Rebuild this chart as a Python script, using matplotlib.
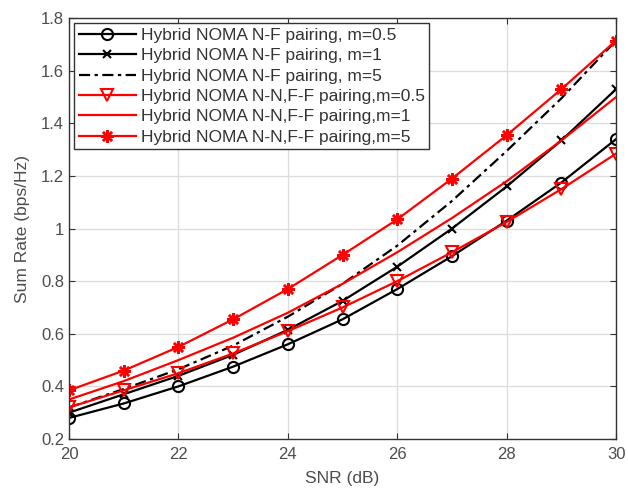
import matplotlib
matplotlib.use("Agg")
import matplotlib.pyplot as plt
from matplotlib.ticker import FuncFormatter

snr = [20, 21, 22, 23, 24, 25, 26, 27, 28, 29, 30]

nf_m05 = [0.28, 0.335, 0.40, 0.475, 0.56, 0.655, 0.77, 0.895, 1.03, 1.175, 1.34]
nf_m1 = [0.30, 0.37, 0.44, 0.52, 0.615, 0.725, 0.855, 1.0, 1.16, 1.335, 1.53]
nf_m5 = [0.32, 0.39, 0.465, 0.555, 0.665, 0.79, 0.935, 1.105, 1.295, 1.495, 1.715]
nn_m05 = [0.32, 0.385, 0.45, 0.525, 0.61, 0.70, 0.80, 0.91, 1.025, 1.15, 1.285]
nn_m1 = [0.35, 0.42, 0.50, 0.585, 0.68, 0.79, 0.91, 1.04, 1.18, 1.335, 1.50]
nn_m5 = [0.385, 0.46, 0.55, 0.655, 0.77, 0.90, 1.035, 1.19, 1.355, 1.53, 1.715]

labels = [
    "Hybrid NOMA N-F pairing, m=0.5",
    "Hybrid NOMA N-F pairing, m=1",
    "Hybrid NOMA N-F pairing, m=5",
    "Hybrid NOMA N-N,F-F pairing,m=0.5",
    "Hybrid NOMA N-N,F-F pairing,m=1",
    "Hybrid NOMA N-N,F-F pairing,m=5",
]

plt.rcParams['font.family'] = ['Liberation Sans', 'DejaVu Sans']

fig = plt.figure(figsize=(6.28, 4.91), dpi=100)
ax = fig.add_axes([0.110, 0.106, 0.871, 0.857])

lw = 1.6
ax.plot(snr, nf_m05, color='black', lw=lw, marker='o', ms=8, mfc='none', mew=1.5, label=labels[0])
ax.plot(snr, nf_m1, color='black', lw=lw, marker='x', ms=6, mew=1.5, label=labels[1])
ax.plot(snr, nf_m5, color='black', lw=lw, ls=(0, (5, 2, 1.5, 2)), label=labels[2])
ax.plot(snr, nn_m05, color='red', lw=lw, marker='v', ms=9, mfc='none', mew=1.5, label=labels[3])
ax.plot(snr, nn_m1, color='red', lw=lw, label=labels[4])
ax.plot(snr, nn_m5, color='red', lw=lw, marker=(8, 2, 0), ms=9, mew=1.8, label=labels[5])

ax.set_xlim(20, 30)
ax.set_ylim(0.2, 1.8)
ax.set_xticks(range(20, 31, 2))
ax.set_yticks([0.2, 0.4, 0.6, 0.8, 1.0, 1.2, 1.4, 1.6, 1.8])
ax.yaxis.set_major_formatter(FuncFormatter(lambda v, p: f"{v:g}"))

ax.grid(True, color='#dcdcdc', lw=0.9)
ax.set_axisbelow(True)
ax.tick_params(direction='in', top=True, right=True, colors='#333333', labelcolor='#4d4d4d',
               labelsize=12, length=4)
ax.tick_params(axis='x', pad=6)
for s in ax.spines.values():
    s.set_color('#333333')
    s.set_linewidth(1.0)

ax.set_xlabel('SNR (dB)', color='#4d4d4d', fontsize=12.5, labelpad=6)
ax.set_ylabel('Sum Rate (bps/Hz)', color='#4d4d4d', fontsize=12.5, labelpad=8)

leg = ax.legend(loc='upper left', fancybox=False, edgecolor='#333333', framealpha=1,
                handlelength=3.3, handletextpad=0.3, labelspacing=0.3,
                borderpad=0.25, borderaxespad=0.3, fontsize=12.5)
leg.get_frame().set_linewidth(1.0)
for t in leg.get_texts():
    t.set_color('#333333')

fig.savefig('out.png', dpi=100)
